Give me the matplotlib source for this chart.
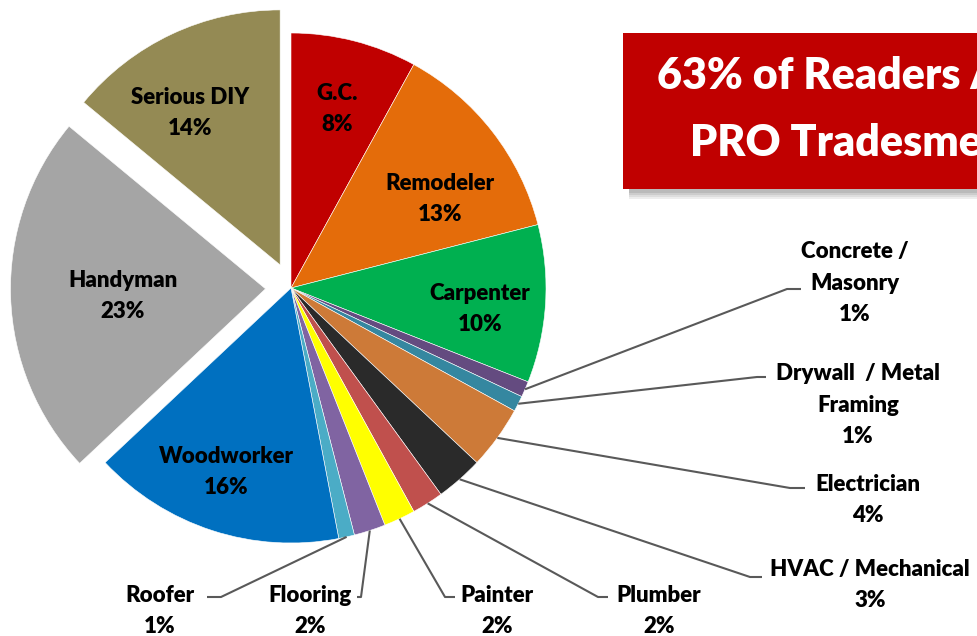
import matplotlib.pyplot as plt
from matplotlib.patches import Rectangle
import numpy as np

# 読者の職種構成 (%)
categories = ['G.C.', 'Remodeler', 'Carpenter', 'Concrete /\nMasonry', 'Drywall  / Metal\nFraming',
              'Electrician', 'HVAC / Mechanical', 'Plumber', 'Painter', 'Flooring', 'Roofer',
              'Woodworker', 'Handyman', 'Serious DIY']
shares = [8, 13, 10, 1, 1, 4, 3, 2, 2, 2, 1, 16, 23, 14]
colors = ['#C00000', '#E46C0A', '#00B050', '#644B80', '#3587A0', '#CD7A38', '#2A2A2A',
          '#C0504D', '#FFFF00', '#8064A2', '#4BACC6', '#0070C0', '#A5A5A5', '#948A54']
exploded = ['Handyman', 'Serious DIY']
title_lines = ['63% of Readers Are', 'PRO Tradesmen']

# レイアウト (ピクセル座標, 上が0)
W, H = 977, 636
CX, CY, R = 291, 288, 255


def px(x, y):
    return (x - CX) / R, (CY - y) / R


# 内側ラベルの中心
inside_pos = {0: (337, 109), 1: (440, 199), 2: (480, 309),
              11: (226, 472), 12: (123, 296), 13: (190, 113)}
# 外側ラベル: (折れ点, 線の終点, テキスト中心)
outside_pos = {3: ((787, 289), (801, 289), (855, 283)),
               4: ((757, 377), (766, 377), (858, 405)),
               5: ((790, 488), (805, 488), (868, 500)),
               6: ((750, 577), (762, 577), (870, 585)),
               7: ((598, 597), (608, 597), (659, 611)),
               8: ((445, 597), (455, 597), (497, 611)),
               9: ((361, 597), (357, 597), (310, 611)),
               10: ((221, 597), (207, 597), (160, 611))}

FONT = 'Lato'
plt.rcParams['font.family'] = [FONT, 'DejaVu Sans']

fig = plt.figure(figsize=(W / 100, H / 100), dpi=100)
ax = fig.add_axes([0, 0, 1, 1])

explode = [0.1 if c in exploded else 0 for c in categories]
wedges, _ = ax.pie(shares, colors=colors, startangle=90, counterclock=False,
                   explode=explode, radius=1, center=(0, 0),
                   wedgeprops=dict(edgecolor='white', linewidth=0.4))

ax.set_xlim(px(0, 0)[0], px(W, 0)[0])
ax.set_ylim(px(0, H)[1], px(0, 0)[1])
ax.set_aspect('equal')
ax.axis('off')

label_kw = dict(fontsize=16, fontweight='heavy', color='black', ha='center', va='center',
                multialignment='center', linespacing=1.62)

for i, (name, share) in enumerate(zip(categories, shares)):
    text = f'{name}\n{share}%'
    if i in inside_pos:
        ax.text(*px(*inside_pos[i]), text, **label_kw)
    else:
        elbow, end, tpos = outside_pos[i]
        w = wedges[i]
        mid = np.deg2rad((w.theta1 + w.theta2) / 2)
        sx, sy = np.cos(mid) * 1.0, np.sin(mid) * 1.0
        ex, ey = px(*elbow)
        tx, ty = px(*end)
        ax.plot([sx, ex, tx], [sy, ey, ty], color='#595959', lw=1.5,
                solid_capstyle='butt', zorder=1)
        ax.text(*px(*tpos), text, **label_kw)

# タイトルボックス (右側ははみ出して切れる)
bx0, by0 = px(623, 189)
bw = (W + 200 - 623) / R
bh = (189 - 33) / R
for k, a in enumerate([0.10, 0.10, 0.12, 0.15]):
    off = (4 + 2 * (3 - k)) / R
    ax.add_patch(Rectangle((bx0 + 6 / R, by0 - off), bw, bh, facecolor='#555555',
                           edgecolor='none', alpha=a, zorder=2))
ax.add_patch(Rectangle((bx0, by0), bw, bh, facecolor='#C00000', edgecolor='none', zorder=3))
ax.text(*px(657, 76), title_lines[0], fontsize=31, fontweight='heavy', color='white',
        ha='left', va='center', zorder=4)
ax.text(*px(690, 143), title_lines[1], fontsize=31, fontweight='heavy', color='white',
        ha='left', va='center', zorder=4)

fig.savefig('out.png', dpi=100)
